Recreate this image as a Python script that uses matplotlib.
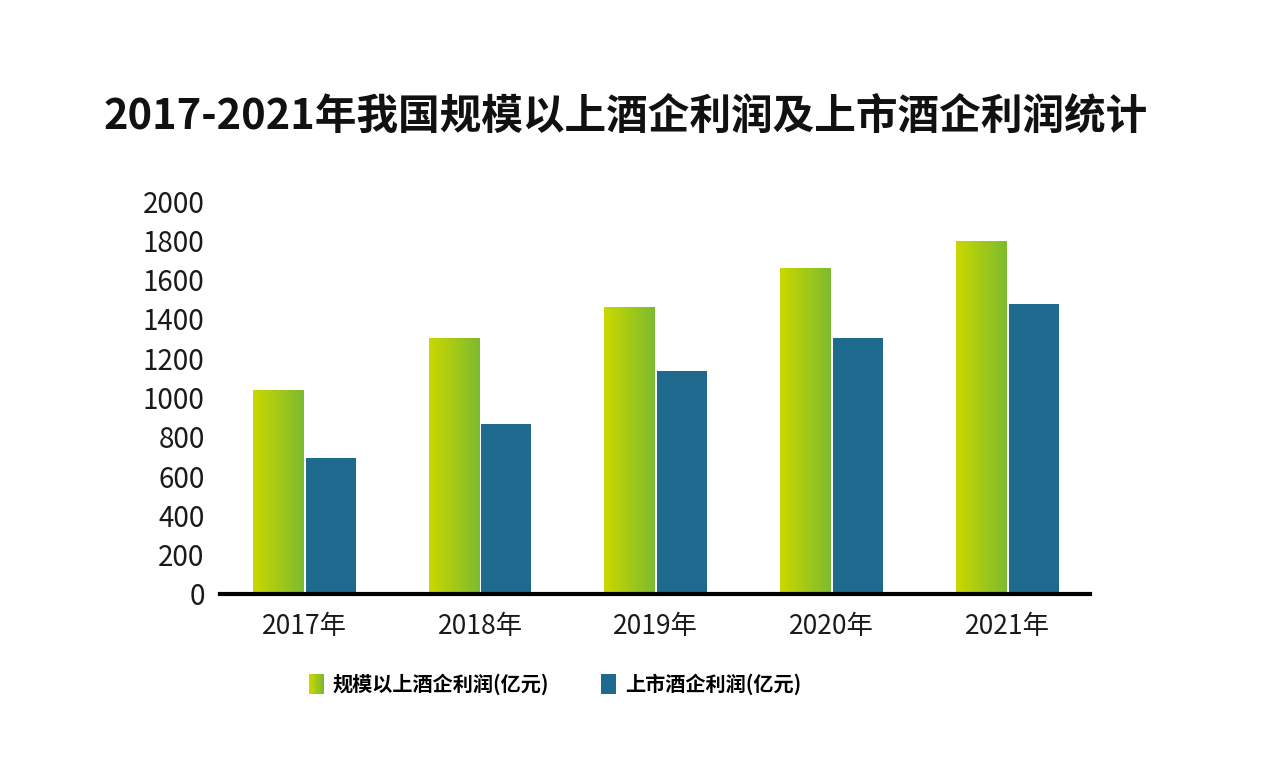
import numpy as np
import matplotlib
matplotlib.use("Agg")
import matplotlib.pyplot as plt
from matplotlib.patches import Rectangle
from matplotlib.legend_handler import HandlerBase
from matplotlib.colors import LinearSegmentedColormap

plt.rcParams['font.family'] = ['Noto Sans CJK SC', 'DejaVu Sans']

# 数据 (亿元)
years = ["2017年", "2018年", "2019年", "2020年", "2021年"]
scale_profit = [1037, 1301, 1463, 1661, 1797]   # 规模以上酒企利润
listed_profit = [693, 866, 1134, 1301, 1478]    # 上市酒企利润
series_names = ["规模以上酒企利润(亿元)", "上市酒企利润(亿元)"]
y_ticks = [0, 200, 400, 600, 800, 1000, 1200, 1400, 1600, 1800, 2000]

green_left = "#cbd800"
green_right = "#7dbb2e"
blue = "#1d6a8e"
green_cmap = LinearSegmentedColormap.from_list("g", [green_left, green_right])


class GradientHandler(HandlerBase):
    # 图例里的渐变小方块
    def create_artists(self, legend, orig_handle, xdescent, ydescent,
                       width, height, fontsize, trans):
        n = 12
        arts = []
        for k in range(n):
            r = Rectangle((xdescent + width * k / n, -ydescent), width / n + 0.2, height,
                          facecolor=green_cmap(k / (n - 1)), edgecolor="none",
                          transform=trans)
            arts.append(r)
        return arts


fig = plt.figure(figsize=(12.67, 7.69), dpi=100)
ax = fig.add_axes([0.1736, 0.2276, 0.6867, 0.511])

x = np.arange(len(years))
w = 0.285
off = 0.15

green_bars = ax.bar(x - off, scale_profit, w, color="none", edgecolor="none")
blue_bars = ax.bar(x + off, listed_profit, w, color=blue, edgecolor="none")

grad = np.linspace(0, 1, 256).reshape(1, -1)
for b in green_bars:
    x0, y0 = b.get_x(), b.get_y()
    im = ax.imshow(grad, cmap=green_cmap, aspect="auto", interpolation="bilinear",
                   extent=[x0, x0 + b.get_width(), y0, y0 + b.get_height()], zorder=2)
    im.set_clip_path(b)

ax.set_xlim(-0.48, 4.47)
ax.set_ylim(0, 2000)
ax.set_yticks(y_ticks)
ax.set_xticks(x)
ax.set_xticklabels(years)

for s in ["top", "right", "left"]:
    ax.spines[s].set_visible(False)
ax.spines["bottom"].set_linewidth(3)
ax.spines["bottom"].set_color("black")
ax.spines["bottom"].set_zorder(5)
ax.tick_params(axis="both", length=0, colors="#1a1a1a")
ax.tick_params(axis="y", pad=11, labelsize=20)
ax.tick_params(axis="x", pad=14, labelsize=19)

fig.text(626 / 1267, 1 - 117 / 769, "2017-2021年我国规模以上酒企利润及上市酒企利润统计",
         ha="center", va="center", fontsize=30, fontweight="bold", color="#111111")

h1 = Rectangle((0, 0), 1, 1)
h2 = Rectangle((0, 0), 1, 1, facecolor=blue, edgecolor="none")
leg = fig.legend([h1, h2], series_names, handler_map={h1: GradientHandler()},
                 loc="center", bbox_to_anchor=(555 / 1267, 1 - 684 / 769),
                 ncol=2, frameon=False, handlelength=0.72, handleheight=1.15,
                 handletextpad=0.45, columnspacing=2.6,
                 prop={"size": 14.5, "weight": "bold"})

fig.savefig("out.png", dpi=100, facecolor="white")
